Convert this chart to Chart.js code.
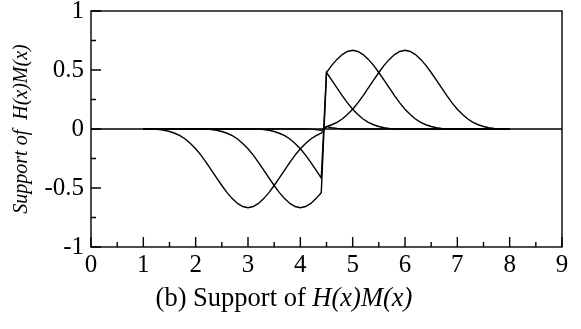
<!DOCTYPE html>
<html>
<head>
<meta charset="utf-8">
<script src="https://cdn.jsdelivr.net/npm/chart.js@4"></script>
<style>
  html, body { margin: 0; padding: 0; background: #fff; }
  #wrap { position: relative; width: 581px; height: 329px; }
  #chart { position: absolute; left: 0; top: 0; }
  #caption {
    position: absolute; left: 0; width: 568px; top: 284px; text-align: center;
    font: 26.5px/26px "Liberation Serif", "Times New Roman", serif; color: #000;
  }
</style>
</head>
<body>
<div id="wrap">
  <canvas id="chart" width="581" height="329"></canvas>
  <div id="caption">(b) Support of <i>H(x)M(x)</i></div>
</div>
<script>
// ===== DATA =====
const xs = [
  1.0, 1.1, 1.2, 1.3, 1.4, 1.5, 1.6, 1.7, 1.8, 1.9, 2.0,
  2.1, 2.2, 2.3, 2.4, 2.5, 2.6, 2.7, 2.8, 2.9, 3.0,
  3.1, 3.2, 3.3, 3.4, 3.5, 3.6, 3.7, 3.8, 3.9, 4.0,
  4.1, 4.2, 4.3, 4.4, 4.5, 4.6, 4.7, 4.8, 4.9, 5.0,
  5.1, 5.2, 5.3, 5.4, 5.5, 5.6, 5.7, 5.8, 5.9, 6.0,
  6.1, 6.2, 6.3, 6.4, 6.5, 6.6, 6.7, 6.8, 6.9, 7.0,
  7.1, 7.2, 7.3, 7.4, 7.5, 7.6, 7.7, 7.8, 7.9, 8.0
];

// bump centred at 3
const curve3 = [
  0, 0, -0.001, -0.005, -0.011, -0.021, -0.036, -0.057, -0.085, -0.122, -0.167,
  -0.221, -0.283, -0.348, -0.415, -0.479, -0.539, -0.590, -0.631, -0.657, -0.667,
  -0.657, -0.631, -0.590, -0.539, -0.479, -0.415, -0.348, -0.283, -0.221, -0.167,
  -0.122, -0.085, -0.057, -0.036, 0.021, 0.011, 0.005, 0.001, 0, 0,
  0, 0, 0, 0, 0, 0, 0, 0, 0, 0,
  0, 0, 0, 0, 0, 0, 0, 0, 0, 0,
  0, 0, 0, 0, 0, 0, 0, 0, 0, 0
];

// bump centred at 4
const curve4 = [
  0, 0, 0, 0, 0, 0, 0, 0, 0, 0, 0,
  0, -0.001, -0.005, -0.011, -0.021, -0.036, -0.057, -0.085, -0.122, -0.167,
  -0.221, -0.283, -0.348, -0.415, -0.479, -0.539, -0.590, -0.631, -0.657, -0.667,
  -0.657, -0.631, -0.590, -0.539, 0.479, 0.415, 0.348, 0.283, 0.221, 0.167,
  0.122, 0.085, 0.057, 0.036, 0.021, 0.011, 0.005, 0.001, 0, 0,
  0, 0, 0, 0, 0, 0, 0, 0, 0, 0,
  0, 0, 0, 0, 0, 0, 0, 0, 0, 0
];

// bump centred at 5
const curve5 = [
  0, 0, 0, 0, 0, 0, 0, 0, 0, 0, 0,
  0, 0, 0, 0, 0, 0, 0, 0, 0, 0,
  0, -0.001, -0.005, -0.011, -0.021, -0.036, -0.057, -0.085, -0.122, -0.167,
  -0.221, -0.283, -0.348, -0.415, 0.479, 0.539, 0.590, 0.631, 0.657, 0.667,
  0.657, 0.631, 0.590, 0.539, 0.479, 0.415, 0.348, 0.283, 0.221, 0.167,
  0.122, 0.085, 0.057, 0.036, 0.021, 0.011, 0.005, 0.001, 0, 0,
  0, 0, 0, 0, 0, 0, 0, 0, 0, 0
];

// bump centred at 6
const curve6 = [
  0, 0, 0, 0, 0, 0, 0, 0, 0, 0, 0,
  0, 0, 0, 0, 0, 0, 0, 0, 0, 0,
  0, 0, 0, 0, 0, 0, 0, 0, 0, 0,
  0, -0.001, -0.005, -0.011, 0.021, 0.036, 0.057, 0.085, 0.122, 0.167,
  0.221, 0.283, 0.348, 0.415, 0.479, 0.539, 0.590, 0.631, 0.657, 0.667,
  0.657, 0.631, 0.590, 0.539, 0.479, 0.415, 0.348, 0.283, 0.221, 0.167,
  0.122, 0.085, 0.057, 0.036, 0.021, 0.011, 0.005, 0.001, 0, 0
];

// zero line across the whole axis
const zeroX = [0, 9];
const zeroY = [0, 0];

// ticks
const xTicks      = [0, 1, 2, 3, 4, 5, 6, 7, 8, 9];
const xTickLabels = ['0', '1', '2', '3', '4', '5', '6', '7', '8', '9'];
const xMinor      = [0.5, 1.5, 2.5, 3.5, 4.5, 5.5, 6.5, 7.5, 8.5];
const yTicks      = [-1, -0.5, 0, 0.5, 1];
const yTickLabels = ['-1', '-0.5', '0', '0.5', '1'];
const yMinor      = [-0.75, -0.25, 0.25, 0.75];

// ===== HELPERS =====
function toPoints(xArr, yArr) {
  return xArr.map((x, i) => ({ x: x, y: yArr[i] }));
}

function lineSet(xArr, yArr) {
  return {
    data: toPoints(xArr, yArr),
    borderColor: '#000',
    borderWidth: 1.4,
    pointRadius: 0,
    tension: 0,
    fill: false,
  };
}

// frame + inward tick marks
const frameTicks = {
  id: 'frameTicks',
  afterDatasetsDraw(chart) {
    const { ctx, chartArea: a, scales: { x, y } } = chart;
    ctx.save();
    ctx.strokeStyle = '#000';
    ctx.lineWidth = 1.4;
    ctx.strokeRect(a.left, a.top, a.right - a.left, a.bottom - a.top);
    ctx.beginPath();
    xTicks.forEach(v => {
      const px = x.getPixelForValue(v);
      ctx.moveTo(px, a.bottom); ctx.lineTo(px, a.bottom - 10);
    });
    xMinor.forEach(v => {
      const px = x.getPixelForValue(v);
      ctx.moveTo(px, a.bottom); ctx.lineTo(px, a.bottom - 5);
    });
    yTicks.forEach(v => {
      const py = y.getPixelForValue(v);
      ctx.moveTo(a.left, py); ctx.lineTo(a.left + 10, py);
    });
    yMinor.forEach(v => {
      const py = y.getPixelForValue(v);
      ctx.moveTo(a.left, py); ctx.lineTo(a.left + 5, py);
    });
    ctx.stroke();
    ctx.restore();
  }
};

// ===== CHART =====
const ctx = document.getElementById('chart').getContext('2d');

new Chart(ctx, {
  type: 'line',
  data: {
    datasets: [
      lineSet(zeroX, zeroY),
      lineSet(xs, curve3),
      lineSet(xs, curve4),
      lineSet(xs, curve5),
      lineSet(xs, curve6),
    ],
  },
  options: {
    responsive: false,
    animation: false,
    devicePixelRatio: 1,
    layout: { padding: { left: 0, right: 19, top: 11, bottom: 0 } },
    plugins: {
      legend: { display: false },
      tooltip: { enabled: false },
    },
    scales: {
      x: {
        type: 'linear',
        min: 0,
        max: 9,
        afterBuildTicks: s => { s.ticks = xTicks.map(v => ({ value: v })); },
        afterFit: s => { s.height = 82; s.paddingLeft = 0; s.paddingRight = 0; },
        grid: { display: false, drawTicks: false },
        border: { display: false },
        ticks: {
          autoSkip: false,
          maxRotation: 0,
          padding: 3,
          color: '#000',
          font: { family: 'Liberation Serif', size: 25 },
          callback: (v, i) => xTickLabels[i],
        },
      },
      y: {
        type: 'linear',
        min: -1,
        max: 1,
        afterBuildTicks: s => { s.ticks = yTicks.map(v => ({ value: v })); },
        afterFit: s => { s.width = 91; s.paddingTop = 0; s.paddingBottom = 0; },
        grid: { display: false, drawTicks: false },
        border: { display: false },
        ticks: {
          padding: 7,
          color: '#000',
          font: { family: 'Liberation Serif', size: 25 },
          callback: (v, i) => yTickLabels[i],
        },
        title: {
          display: true,
          text: 'Support of  H(x)M(x)',
          color: '#000',
          font: { family: 'Liberation Serif', size: 20, style: 'italic' },
          padding: { top: 10, bottom: 0 },
        },
      },
    },
  },
  plugins: [frameTicks],
});
</script>
</body>
</html>
